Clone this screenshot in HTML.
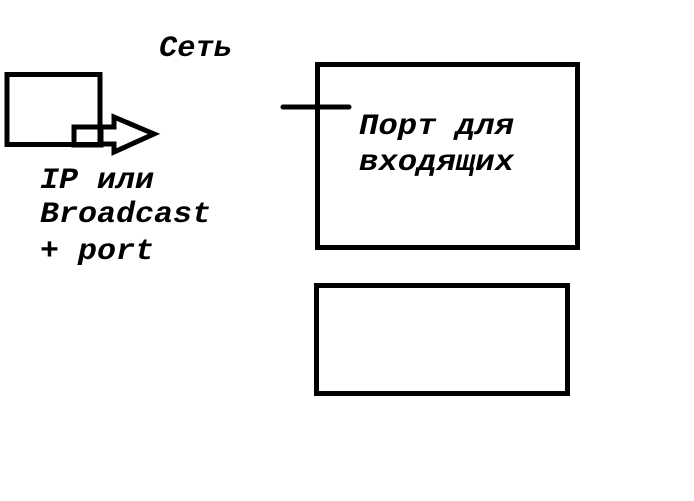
<!DOCTYPE html>
<html><head><meta charset="utf-8"><style>html,body{margin:0;padding:0;background:#fff}</style></head>
<body>
<svg width="694" height="496" viewBox="0 0 694 496" xmlns="http://www.w3.org/2000/svg">
<g fill="none" stroke="#000" stroke-width="5">
<rect x="7" y="74.5" width="93" height="70"/>
<rect x="74" y="127" width="27" height="18"/>
<polygon points="101,127 114,127 114,117 154,134 114,152 114,144 101,144"/>
<rect x="317.5" y="64.5" width="260" height="183"/>
<rect x="316.5" y="285.5" width="251" height="108"/>
<line x1="283" y1="107" x2="349" y2="107" stroke-linecap="round"/>
</g>
<g font-family="Liberation Mono, monospace" font-weight="bold" font-style="italic" font-size="30" fill="#000">
<text x="159" y="56" textLength="73" lengthAdjust="spacingAndGlyphs">Сеть</text>
<text x="359" y="134" textLength="155" lengthAdjust="spacingAndGlyphs">Порт для</text>
<text x="359" y="170" textLength="155" lengthAdjust="spacingAndGlyphs">входящих</text>
<text x="40" y="188" textLength="114" lengthAdjust="spacingAndGlyphs">IP или</text>
<text x="40" y="222" textLength="171" lengthAdjust="spacingAndGlyphs">Broadcast</text>
<text x="40" y="259" textLength="114" lengthAdjust="spacingAndGlyphs">+ port</text>
</g>
</svg>
</body></html>
